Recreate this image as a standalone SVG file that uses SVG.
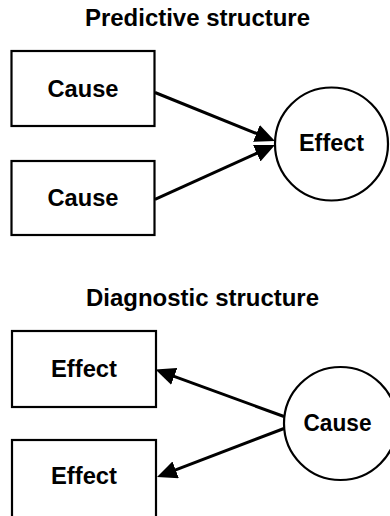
<svg xmlns="http://www.w3.org/2000/svg" width="390" height="516" viewBox="0 0 390 516">
<style>
text{font-family:"Liberation Sans",Arial,sans-serif;font-weight:bold;font-size:23px;fill:#000;text-anchor:middle}
.node{fill:#fff;stroke:#000;stroke-width:2.2}
.edge{stroke:#000;stroke-width:3;fill:none}
</style>
<defs>
<marker id="ah" markerUnits="userSpaceOnUse" viewBox="0 0 20 18" markerWidth="20" markerHeight="18" refX="14" refY="9" orient="auto">
<path d="M0,0 L20,9 L0,18 z" fill="#000"/>
</marker>
</defs>
<rect width="390" height="516" fill="#fff"/>
<text id="title1" x="197.5" y="26" textLength="225" lengthAdjust="spacingAndGlyphs">Predictive structure</text>
<text id="title2" x="202.5" y="306" textLength="233" lengthAdjust="spacingAndGlyphs">Diagnostic structure</text>
<g id="connectors">
<line class="edge" x1="155" y1="92.5" x2="269.4" y2="138.7" marker-end="url(#ah)"/>
<line class="edge" x1="155" y1="199.3" x2="269.5" y2="147.5" marker-end="url(#ah)"/>
<line class="edge" x1="284" y1="416.5" x2="161.1" y2="371.6" marker-end="url(#ah)"/>
<line class="edge" x1="284" y1="428.5" x2="162.6" y2="474.9" marker-end="url(#ah)"/>
</g>
<g id="cause1"><rect class="node" x="11.5" y="51" width="143" height="75"/><text x="83" y="96.5" textLength="71" lengthAdjust="spacingAndGlyphs">Cause</text></g>
<g id="cause2"><rect class="node" x="11.5" y="161" width="143" height="74"/><text x="83" y="206" textLength="71" lengthAdjust="spacingAndGlyphs">Cause</text></g>
<g id="effect1"><circle class="node" cx="331.5" cy="144" r="56.5"/><text x="331.5" y="151" textLength="65" lengthAdjust="spacingAndGlyphs">Effect</text></g>
<g id="effect2"><rect class="node" x="12" y="331" width="144" height="76"/><text x="84" y="377" textLength="66" lengthAdjust="spacingAndGlyphs">Effect</text></g>
<g id="effect3"><rect class="node" x="12" y="440" width="144" height="90"/><text x="84" y="483.5" textLength="66" lengthAdjust="spacingAndGlyphs">Effect</text></g>
<g id="cause3"><circle class="node" cx="340.5" cy="423.5" r="56.5"/><text x="337.5" y="431" textLength="68" lengthAdjust="spacingAndGlyphs">Cause</text></g>
</svg>
